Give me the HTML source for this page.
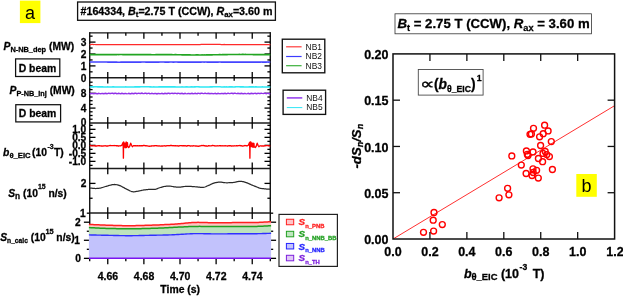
<!DOCTYPE html>
<html lang="en"><head><meta charset="utf-8"><title>Figure</title>
<style>html,body{margin:0;padding:0;background:#fff;}svg{display:block;font-family:'Liberation Sans', sans-serif;}.b{font-weight:bold;stroke:#000;stroke-width:0.28px;}.i{font-style:italic;}</style></head><body>
<svg style="will-change:transform" width="623" height="296" viewBox="0 0 623 296">
<rect x="0" y="0" width="623" height="296" fill="#fff"/>
<rect x="19.9" y="0.6" width="20.5" height="22.5" fill="#ffff00"/>
<text x="30.0" y="18.6" font-size="18" text-anchor="middle" fill="#000">a</text>
<rect x="77.6" y="2.0" width="197.8" height="18.3" fill="#fff" stroke="#111" stroke-width="1.3"/>
<text x="80.5" y="14.6" font-size="10.7" class="b">#164334, <tspan class="i">B</tspan><tspan font-size="7.8" dy="2.5">t</tspan><tspan dy="-2.5">=2.75 T (CCW), </tspan><tspan class="i">R</tspan><tspan font-size="7.8" dy="2.5">ax</tspan><tspan dy="-2.5">=3.60 m</tspan></text>
<line x1="89.7" y1="32.12" x2="89.7" y2="258.35" stroke="#161616" stroke-width="1.45"/>
<line x1="270.3" y1="32.12" x2="270.3" y2="258.35" stroke="#161616" stroke-width="1.45"/>
<line x1="89.7" y1="32.85" x2="270.3" y2="32.85" stroke="#161616" stroke-width="1.45"/>
<line x1="89.7" y1="77.8" x2="270.3" y2="77.8" stroke="#1c1c1c" stroke-width="1.5"/>
<line x1="89.7" y1="122.9" x2="270.3" y2="122.9" stroke="#1c1c1c" stroke-width="1.5"/>
<line x1="89.7" y1="168.4" x2="270.3" y2="168.4" stroke="#1c1c1c" stroke-width="1.5"/>
<line x1="89.7" y1="213.1" x2="270.3" y2="213.1" stroke="#1c1c1c" stroke-width="1.5"/>
<line x1="89.7" y1="258.35" x2="270.3" y2="258.35" stroke="#161616" stroke-width="1.45"/>
<line x1="89.7" y1="258.35" x2="89.7" y2="261.25" stroke="#000" stroke-width="1.3"/>
<line x1="107.76" y1="32.85" x2="107.76" y2="38.65" stroke="#000" stroke-width="1.3"/>
<line x1="107.76" y1="72" x2="107.76" y2="83.6" stroke="#000" stroke-width="1.3"/>
<line x1="107.76" y1="117.1" x2="107.76" y2="128.7" stroke="#000" stroke-width="1.3"/>
<line x1="107.76" y1="162.6" x2="107.76" y2="174.2" stroke="#000" stroke-width="1.3"/>
<line x1="107.76" y1="207.3" x2="107.76" y2="218.9" stroke="#000" stroke-width="1.3"/>
<line x1="107.76" y1="258.35" x2="107.76" y2="264.15" stroke="#000" stroke-width="1.3"/>
<line x1="125.82" y1="32.85" x2="125.82" y2="35.75" stroke="#000" stroke-width="1.3"/>
<line x1="125.82" y1="74.9" x2="125.82" y2="80.7" stroke="#000" stroke-width="1.3"/>
<line x1="125.82" y1="120" x2="125.82" y2="125.8" stroke="#000" stroke-width="1.3"/>
<line x1="125.82" y1="165.5" x2="125.82" y2="171.3" stroke="#000" stroke-width="1.3"/>
<line x1="125.82" y1="210.2" x2="125.82" y2="216" stroke="#000" stroke-width="1.3"/>
<line x1="125.82" y1="258.35" x2="125.82" y2="261.25" stroke="#000" stroke-width="1.3"/>
<line x1="143.88" y1="32.85" x2="143.88" y2="38.65" stroke="#000" stroke-width="1.3"/>
<line x1="143.88" y1="72" x2="143.88" y2="83.6" stroke="#000" stroke-width="1.3"/>
<line x1="143.88" y1="117.1" x2="143.88" y2="128.7" stroke="#000" stroke-width="1.3"/>
<line x1="143.88" y1="162.6" x2="143.88" y2="174.2" stroke="#000" stroke-width="1.3"/>
<line x1="143.88" y1="207.3" x2="143.88" y2="218.9" stroke="#000" stroke-width="1.3"/>
<line x1="143.88" y1="258.35" x2="143.88" y2="264.15" stroke="#000" stroke-width="1.3"/>
<line x1="161.94" y1="32.85" x2="161.94" y2="35.75" stroke="#000" stroke-width="1.3"/>
<line x1="161.94" y1="74.9" x2="161.94" y2="80.7" stroke="#000" stroke-width="1.3"/>
<line x1="161.94" y1="120" x2="161.94" y2="125.8" stroke="#000" stroke-width="1.3"/>
<line x1="161.94" y1="165.5" x2="161.94" y2="171.3" stroke="#000" stroke-width="1.3"/>
<line x1="161.94" y1="210.2" x2="161.94" y2="216" stroke="#000" stroke-width="1.3"/>
<line x1="161.94" y1="258.35" x2="161.94" y2="261.25" stroke="#000" stroke-width="1.3"/>
<line x1="180" y1="32.85" x2="180" y2="38.65" stroke="#000" stroke-width="1.3"/>
<line x1="180" y1="72" x2="180" y2="83.6" stroke="#000" stroke-width="1.3"/>
<line x1="180" y1="117.1" x2="180" y2="128.7" stroke="#000" stroke-width="1.3"/>
<line x1="180" y1="162.6" x2="180" y2="174.2" stroke="#000" stroke-width="1.3"/>
<line x1="180" y1="207.3" x2="180" y2="218.9" stroke="#000" stroke-width="1.3"/>
<line x1="180" y1="258.35" x2="180" y2="264.15" stroke="#000" stroke-width="1.3"/>
<line x1="198.06" y1="32.85" x2="198.06" y2="35.75" stroke="#000" stroke-width="1.3"/>
<line x1="198.06" y1="74.9" x2="198.06" y2="80.7" stroke="#000" stroke-width="1.3"/>
<line x1="198.06" y1="120" x2="198.06" y2="125.8" stroke="#000" stroke-width="1.3"/>
<line x1="198.06" y1="165.5" x2="198.06" y2="171.3" stroke="#000" stroke-width="1.3"/>
<line x1="198.06" y1="210.2" x2="198.06" y2="216" stroke="#000" stroke-width="1.3"/>
<line x1="198.06" y1="258.35" x2="198.06" y2="261.25" stroke="#000" stroke-width="1.3"/>
<line x1="216.12" y1="32.85" x2="216.12" y2="38.65" stroke="#000" stroke-width="1.3"/>
<line x1="216.12" y1="72" x2="216.12" y2="83.6" stroke="#000" stroke-width="1.3"/>
<line x1="216.12" y1="117.1" x2="216.12" y2="128.7" stroke="#000" stroke-width="1.3"/>
<line x1="216.12" y1="162.6" x2="216.12" y2="174.2" stroke="#000" stroke-width="1.3"/>
<line x1="216.12" y1="207.3" x2="216.12" y2="218.9" stroke="#000" stroke-width="1.3"/>
<line x1="216.12" y1="258.35" x2="216.12" y2="264.15" stroke="#000" stroke-width="1.3"/>
<line x1="234.18" y1="32.85" x2="234.18" y2="35.75" stroke="#000" stroke-width="1.3"/>
<line x1="234.18" y1="74.9" x2="234.18" y2="80.7" stroke="#000" stroke-width="1.3"/>
<line x1="234.18" y1="120" x2="234.18" y2="125.8" stroke="#000" stroke-width="1.3"/>
<line x1="234.18" y1="165.5" x2="234.18" y2="171.3" stroke="#000" stroke-width="1.3"/>
<line x1="234.18" y1="210.2" x2="234.18" y2="216" stroke="#000" stroke-width="1.3"/>
<line x1="234.18" y1="258.35" x2="234.18" y2="261.25" stroke="#000" stroke-width="1.3"/>
<line x1="252.24" y1="32.85" x2="252.24" y2="38.65" stroke="#000" stroke-width="1.3"/>
<line x1="252.24" y1="72" x2="252.24" y2="83.6" stroke="#000" stroke-width="1.3"/>
<line x1="252.24" y1="117.1" x2="252.24" y2="128.7" stroke="#000" stroke-width="1.3"/>
<line x1="252.24" y1="162.6" x2="252.24" y2="174.2" stroke="#000" stroke-width="1.3"/>
<line x1="252.24" y1="207.3" x2="252.24" y2="218.9" stroke="#000" stroke-width="1.3"/>
<line x1="252.24" y1="258.35" x2="252.24" y2="264.15" stroke="#000" stroke-width="1.3"/>
<line x1="270.3" y1="258.35" x2="270.3" y2="261.25" stroke="#000" stroke-width="1.3"/>
<line x1="89.7" y1="65.9" x2="95.5" y2="65.9" stroke="#000" stroke-width="1.3"/>
<line x1="264.5" y1="65.9" x2="270.3" y2="65.9" stroke="#000" stroke-width="1.3"/>
<line x1="89.7" y1="54" x2="95.5" y2="54" stroke="#000" stroke-width="1.3"/>
<line x1="264.5" y1="54" x2="270.3" y2="54" stroke="#000" stroke-width="1.3"/>
<line x1="89.7" y1="42.1" x2="95.5" y2="42.1" stroke="#000" stroke-width="1.3"/>
<line x1="264.5" y1="42.1" x2="270.3" y2="42.1" stroke="#000" stroke-width="1.3"/>
<line x1="89.7" y1="71.85" x2="92.6" y2="71.85" stroke="#000" stroke-width="1.3"/>
<line x1="267.4" y1="71.85" x2="270.3" y2="71.85" stroke="#000" stroke-width="1.3"/>
<line x1="89.7" y1="59.95" x2="92.6" y2="59.95" stroke="#000" stroke-width="1.3"/>
<line x1="267.4" y1="59.95" x2="270.3" y2="59.95" stroke="#000" stroke-width="1.3"/>
<line x1="89.7" y1="48.05" x2="92.6" y2="48.05" stroke="#000" stroke-width="1.3"/>
<line x1="267.4" y1="48.05" x2="270.3" y2="48.05" stroke="#000" stroke-width="1.3"/>
<line x1="89.7" y1="36.15" x2="92.6" y2="36.15" stroke="#000" stroke-width="1.3"/>
<line x1="267.4" y1="36.15" x2="270.3" y2="36.15" stroke="#000" stroke-width="1.3"/>
<line x1="89.7" y1="108.1" x2="95.5" y2="108.1" stroke="#000" stroke-width="1.3"/>
<line x1="264.5" y1="108.1" x2="270.3" y2="108.1" stroke="#000" stroke-width="1.3"/>
<line x1="89.7" y1="93.3" x2="95.5" y2="93.3" stroke="#000" stroke-width="1.3"/>
<line x1="264.5" y1="93.3" x2="270.3" y2="93.3" stroke="#000" stroke-width="1.3"/>
<line x1="89.7" y1="119.2" x2="92.6" y2="119.2" stroke="#000" stroke-width="1.3"/>
<line x1="267.4" y1="119.2" x2="270.3" y2="119.2" stroke="#000" stroke-width="1.3"/>
<line x1="89.7" y1="115.5" x2="92.6" y2="115.5" stroke="#000" stroke-width="1.3"/>
<line x1="267.4" y1="115.5" x2="270.3" y2="115.5" stroke="#000" stroke-width="1.3"/>
<line x1="89.7" y1="111.8" x2="92.6" y2="111.8" stroke="#000" stroke-width="1.3"/>
<line x1="267.4" y1="111.8" x2="270.3" y2="111.8" stroke="#000" stroke-width="1.3"/>
<line x1="89.7" y1="104.4" x2="92.6" y2="104.4" stroke="#000" stroke-width="1.3"/>
<line x1="267.4" y1="104.4" x2="270.3" y2="104.4" stroke="#000" stroke-width="1.3"/>
<line x1="89.7" y1="100.7" x2="92.6" y2="100.7" stroke="#000" stroke-width="1.3"/>
<line x1="267.4" y1="100.7" x2="270.3" y2="100.7" stroke="#000" stroke-width="1.3"/>
<line x1="89.7" y1="97" x2="92.6" y2="97" stroke="#000" stroke-width="1.3"/>
<line x1="267.4" y1="97" x2="270.3" y2="97" stroke="#000" stroke-width="1.3"/>
<line x1="89.7" y1="89.6" x2="92.6" y2="89.6" stroke="#000" stroke-width="1.3"/>
<line x1="267.4" y1="89.6" x2="270.3" y2="89.6" stroke="#000" stroke-width="1.3"/>
<line x1="89.7" y1="85.9" x2="92.6" y2="85.9" stroke="#000" stroke-width="1.3"/>
<line x1="267.4" y1="85.9" x2="270.3" y2="85.9" stroke="#000" stroke-width="1.3"/>
<line x1="89.7" y1="82.2" x2="92.6" y2="82.2" stroke="#000" stroke-width="1.3"/>
<line x1="267.4" y1="82.2" x2="270.3" y2="82.2" stroke="#000" stroke-width="1.3"/>
<line x1="89.7" y1="161.35" x2="95.5" y2="161.35" stroke="#000" stroke-width="1.3"/>
<line x1="264.5" y1="161.35" x2="270.3" y2="161.35" stroke="#000" stroke-width="1.3"/>
<line x1="89.7" y1="153.35" x2="95.5" y2="153.35" stroke="#000" stroke-width="1.3"/>
<line x1="264.5" y1="153.35" x2="270.3" y2="153.35" stroke="#000" stroke-width="1.3"/>
<line x1="89.7" y1="145.35" x2="95.5" y2="145.35" stroke="#000" stroke-width="1.3"/>
<line x1="264.5" y1="145.35" x2="270.3" y2="145.35" stroke="#000" stroke-width="1.3"/>
<line x1="89.7" y1="137.35" x2="95.5" y2="137.35" stroke="#000" stroke-width="1.3"/>
<line x1="264.5" y1="137.35" x2="270.3" y2="137.35" stroke="#000" stroke-width="1.3"/>
<line x1="89.7" y1="129.35" x2="95.5" y2="129.35" stroke="#000" stroke-width="1.3"/>
<line x1="264.5" y1="129.35" x2="270.3" y2="129.35" stroke="#000" stroke-width="1.3"/>
<line x1="89.7" y1="165.35" x2="92.6" y2="165.35" stroke="#000" stroke-width="1.3"/>
<line x1="267.4" y1="165.35" x2="270.3" y2="165.35" stroke="#000" stroke-width="1.3"/>
<line x1="89.7" y1="157.35" x2="92.6" y2="157.35" stroke="#000" stroke-width="1.3"/>
<line x1="267.4" y1="157.35" x2="270.3" y2="157.35" stroke="#000" stroke-width="1.3"/>
<line x1="89.7" y1="149.35" x2="92.6" y2="149.35" stroke="#000" stroke-width="1.3"/>
<line x1="267.4" y1="149.35" x2="270.3" y2="149.35" stroke="#000" stroke-width="1.3"/>
<line x1="89.7" y1="141.35" x2="92.6" y2="141.35" stroke="#000" stroke-width="1.3"/>
<line x1="267.4" y1="141.35" x2="270.3" y2="141.35" stroke="#000" stroke-width="1.3"/>
<line x1="89.7" y1="133.35" x2="92.6" y2="133.35" stroke="#000" stroke-width="1.3"/>
<line x1="267.4" y1="133.35" x2="270.3" y2="133.35" stroke="#000" stroke-width="1.3"/>
<line x1="89.7" y1="125.35" x2="92.6" y2="125.35" stroke="#000" stroke-width="1.3"/>
<line x1="267.4" y1="125.35" x2="270.3" y2="125.35" stroke="#000" stroke-width="1.3"/>
<line x1="89.7" y1="183.4" x2="95.5" y2="183.4" stroke="#000" stroke-width="1.3"/>
<line x1="264.5" y1="183.4" x2="270.3" y2="183.4" stroke="#000" stroke-width="1.3"/>
<line x1="89.7" y1="198.25" x2="92.6" y2="198.25" stroke="#000" stroke-width="1.3"/>
<line x1="267.4" y1="198.25" x2="270.3" y2="198.25" stroke="#000" stroke-width="1.3"/>
<line x1="83.9" y1="258.35" x2="89.7" y2="258.35" stroke="#000" stroke-width="1.3"/>
<line x1="270.3" y1="258.35" x2="276.1" y2="258.35" stroke="#000" stroke-width="1.3"/>
<line x1="83.9" y1="240.28" x2="89.7" y2="240.28" stroke="#000" stroke-width="1.3"/>
<line x1="270.3" y1="240.28" x2="276.1" y2="240.28" stroke="#000" stroke-width="1.3"/>
<line x1="83.9" y1="222.21" x2="89.7" y2="222.21" stroke="#000" stroke-width="1.3"/>
<line x1="270.3" y1="222.21" x2="276.1" y2="222.21" stroke="#000" stroke-width="1.3"/>
<line x1="86.8" y1="249.32" x2="89.7" y2="249.32" stroke="#000" stroke-width="1.3"/>
<line x1="270.3" y1="249.32" x2="273.2" y2="249.32" stroke="#000" stroke-width="1.3"/>
<line x1="86.8" y1="231.25" x2="89.7" y2="231.25" stroke="#000" stroke-width="1.3"/>
<line x1="270.3" y1="231.25" x2="273.2" y2="231.25" stroke="#000" stroke-width="1.3"/>
<line x1="86.8" y1="213.18" x2="89.7" y2="213.18" stroke="#000" stroke-width="1.3"/>
<line x1="270.3" y1="213.18" x2="273.2" y2="213.18" stroke="#000" stroke-width="1.3"/>
<polyline points="89.7,44.5 90.7,44.5 91.71,44.49 92.71,44.48 93.71,44.51 94.72,44.5 95.72,44.5 96.72,44.53 97.73,44.52 98.73,44.54 99.73,44.53 100.74,44.53 101.74,44.53 102.74,44.54 103.75,44.53 104.75,44.53 105.75,44.55 106.76,44.54 107.76,44.52 108.76,44.52 109.77,44.54 110.77,44.51 111.77,44.53 112.78,44.52 113.78,44.54 114.78,44.56 115.79,44.57 116.79,44.6 117.79,44.57 118.8,44.58 119.8,44.59 120.8,44.57 121.81,44.57 122.81,44.55 123.81,44.57 124.82,44.6 125.82,44.62 126.82,44.63 127.83,44.62 128.83,44.64 129.83,44.64 130.84,44.64 131.84,44.65 132.84,44.65 133.85,44.66 134.85,44.67 135.85,44.67 136.86,44.66 137.86,44.65 138.86,44.64 139.87,44.67 140.87,44.67 141.87,44.67 142.88,44.67 143.88,44.67 144.88,44.66 145.89,44.66 146.89,44.67 147.89,44.65 148.9,44.62 149.9,44.62 150.9,44.59 151.91,44.59 152.91,44.58 153.91,44.59 154.92,44.57 155.92,44.57 156.92,44.56 157.93,44.56 158.93,44.57 159.93,44.58 160.94,44.59 161.94,44.57 162.94,44.56 163.95,44.56 164.95,44.56 165.95,44.56 166.96,44.55 167.96,44.53 168.96,44.54 169.97,44.54 170.97,44.56 171.97,44.56 172.98,44.56 173.98,44.55 174.98,44.56 175.99,44.57 176.99,44.59 177.99,44.59 179,44.6 180,44.61 181,44.62 182.01,44.58 183.01,44.59 184.01,44.58 185.02,44.61 186.02,44.62 187.02,44.62 188.03,44.6 189.03,44.57 190.03,44.59 191.04,44.58 192.04,44.58 193.04,44.58 194.05,44.56 195.05,44.55 196.05,44.54 197.06,44.54 198.06,44.53 199.06,44.52 200.07,44.51 201.07,44.48 202.07,44.48 203.08,44.49 204.08,44.47 205.08,44.45 206.09,44.46 207.09,44.44 208.09,44.41 209.1,44.41 210.1,44.42 211.1,44.42 212.11,44.43 213.11,44.43 214.11,44.41 215.12,44.42 216.12,44.43 217.12,44.45 218.13,44.45 219.13,44.44 220.13,44.47 221.14,44.5 222.14,44.5 223.14,44.51 224.15,44.5 225.15,44.52 226.15,44.52 227.16,44.53 228.16,44.56 229.16,44.56 230.17,44.56 231.17,44.55 232.17,44.58 233.18,44.56 234.18,44.56 235.18,44.55 236.19,44.54 237.19,44.57 238.19,44.6 239.2,44.63 240.2,44.65 241.2,44.65 242.21,44.67 243.21,44.68 244.21,44.66 245.22,44.65 246.22,44.65 247.22,44.63 248.23,44.64 249.23,44.63 250.23,44.62 251.24,44.62 252.24,44.61 253.24,44.64 254.25,44.66 255.25,44.69 256.25,44.68 257.26,44.67 258.26,44.64 259.26,44.64 260.27,44.64 261.27,44.63 262.27,44.63 263.28,44.63 264.28,44.61 265.28,44.6 266.29,44.61 267.29,44.6 268.29,44.61 269.3,44.63 270.3,44.66" fill="none" stroke="#ff2a2a" stroke-width="1.25" />
<polyline points="89.7,54.63 90.7,54.64 91.71,54.65 92.71,54.66 93.71,54.66 94.72,54.67 95.72,54.66 96.72,54.65 97.73,54.65 98.73,54.62 99.73,54.6 100.74,54.62 101.74,54.62 102.74,54.63 103.75,54.6 104.75,54.61 105.75,54.62 106.76,54.6 107.76,54.58 108.76,54.59 109.77,54.6 110.77,54.61 111.77,54.63 112.78,54.65 113.78,54.63 114.78,54.6 115.79,54.6 116.79,54.57 117.79,54.55 118.8,54.55 119.8,54.52 120.8,54.53 121.81,54.55 122.81,54.56 123.81,54.57 124.82,54.56 125.82,54.58 126.82,54.59 127.83,54.59 128.83,54.58 129.83,54.57 130.84,54.56 131.84,54.57 132.84,54.56 133.85,54.56 134.85,54.56 135.85,54.57 136.86,54.57 137.86,54.57 138.86,54.59 139.87,54.6 140.87,54.62 141.87,54.63 142.88,54.62 143.88,54.64 144.88,54.65 145.89,54.65 146.89,54.67 147.89,54.69 148.9,54.68 149.9,54.68 150.9,54.69 151.91,54.72 152.91,54.7 153.91,54.7 154.92,54.7 155.92,54.68 156.92,54.67 157.93,54.65 158.93,54.64 159.93,54.64 160.94,54.66 161.94,54.64 162.94,54.65 163.95,54.66 164.95,54.64 165.95,54.66 166.96,54.68 167.96,54.68 168.96,54.68 169.97,54.68 170.97,54.67 171.97,54.68 172.98,54.71 173.98,54.7 174.98,54.69 175.99,54.69 176.99,54.71 177.99,54.73 179,54.74 180,54.79 181,54.79 182.01,54.83 183.01,54.84 184.01,54.83 185.02,54.83 186.02,54.87 187.02,54.88 188.03,54.87 189.03,54.93 190.03,54.94 191.04,54.96 192.04,54.97 193.04,54.95 194.05,54.95 195.05,54.97 196.05,54.94 197.06,54.92 198.06,54.93 199.06,54.95 200.07,54.96 201.07,54.95 202.07,54.94 203.08,54.95 204.08,54.93 205.08,54.95 206.09,54.91 207.09,54.88 208.09,54.89 209.1,54.87 210.1,54.83 211.1,54.83 212.11,54.83 213.11,54.8 214.11,54.75 215.12,54.73 216.12,54.71 217.12,54.72 218.13,54.72 219.13,54.69 220.13,54.69 221.14,54.71 222.14,54.69 223.14,54.65 224.15,54.63 225.15,54.62 226.15,54.61 227.16,54.57 228.16,54.55 229.16,54.52 230.17,54.53 231.17,54.53 232.17,54.53 233.18,54.53 234.18,54.54 235.18,54.51 236.19,54.5 237.19,54.46 238.19,54.47 239.2,54.43 240.2,54.46 241.2,54.45 242.21,54.44 243.21,54.44 244.21,54.46 245.22,54.42 246.22,54.45 247.22,54.46 248.23,54.46 249.23,54.48 250.23,54.49 251.24,54.51 252.24,54.53 253.24,54.56 254.25,54.57 255.25,54.59 256.25,54.58 257.26,54.6 258.26,54.59 259.26,54.6 260.27,54.59 261.27,54.59 262.27,54.59 263.28,54.62 264.28,54.6 265.28,54.58 266.29,54.58 267.29,54.59 268.29,54.59 269.3,54.61 270.3,54.59" fill="none" stroke="#22a522" stroke-width="1.65" />
<polyline points="89.7,62.02 90.7,62.02 91.71,62.02 92.71,62.03 93.71,62.03 94.72,62.04 95.72,62.03 96.72,62.03 97.73,62.04 98.73,62.04 99.73,62.02 100.74,62.04 101.74,62.04 102.74,62.05 103.75,62.06 104.75,62.05 105.75,62.06 106.76,62.07 107.76,62.08 108.76,62.1 109.77,62.11 110.77,62.11 111.77,62.11 112.78,62.12 113.78,62.14 114.78,62.16 115.79,62.17 116.79,62.17 117.79,62.18 118.8,62.18 119.8,62.18 120.8,62.17 121.81,62.15 122.81,62.14 123.81,62.14 124.82,62.12 125.82,62.14 126.82,62.13 127.83,62.13 128.83,62.15 129.83,62.14 130.84,62.13 131.84,62.12 132.84,62.12 133.85,62.12 134.85,62.13 135.85,62.13 136.86,62.13 137.86,62.11 138.86,62.11 139.87,62.1 140.87,62.08 141.87,62.07 142.88,62.07 143.88,62.06 144.88,62.07 145.89,62.09 146.89,62.1 147.89,62.1 148.9,62.11 149.9,62.11 150.9,62.11 151.91,62.11 152.91,62.11 153.91,62.1 154.92,62.09 155.92,62.1 156.92,62.09 157.93,62.08 158.93,62.09 159.93,62.07 160.94,62.06 161.94,62.06 162.94,62.06 163.95,62.07 164.95,62.09 165.95,62.09 166.96,62.08 167.96,62.09 168.96,62.08 169.97,62.06 170.97,62.07 171.97,62.07 172.98,62.08 173.98,62.08 174.98,62.07 175.99,62.06 176.99,62.07 177.99,62.09 179,62.1 180,62.1 181,62.08 182.01,62.1 183.01,62.09 184.01,62.1 185.02,62.11 186.02,62.11 187.02,62.12 188.03,62.11 189.03,62.11 190.03,62.11 191.04,62.12 192.04,62.13 193.04,62.12 194.05,62.14 195.05,62.13 196.05,62.13 197.06,62.1 198.06,62.09 199.06,62.1 200.07,62.1 201.07,62.08 202.07,62.07 203.08,62.07 204.08,62.08 205.08,62.07 206.09,62.07 207.09,62.08 208.09,62.07 209.1,62.09 210.1,62.1 211.1,62.1 212.11,62.1 213.11,62.09 214.11,62.09 215.12,62.09 216.12,62.09 217.12,62.09 218.13,62.08 219.13,62.07 220.13,62.07 221.14,62.08 222.14,62.08 223.14,62.08 224.15,62.1 225.15,62.1 226.15,62.1 227.16,62.1 228.16,62.08 229.16,62.09 230.17,62.1 231.17,62.1 232.17,62.12 233.18,62.11 234.18,62.11 235.18,62.12 236.19,62.12 237.19,62.13 238.19,62.12 239.2,62.12 240.2,62.11 241.2,62.12 242.21,62.13 243.21,62.13 244.21,62.13 245.22,62.15 246.22,62.13 247.22,62.13 248.23,62.12 249.23,62.12 250.23,62.13 251.24,62.14 252.24,62.15 253.24,62.15 254.25,62.14 255.25,62.13 256.25,62.12 257.26,62.11 258.26,62.09 259.26,62.07 260.27,62.08 261.27,62.07 262.27,62.08 263.28,62.08 264.28,62.1 265.28,62.09 266.29,62.08 267.29,62.07 268.29,62.08 269.3,62.06 270.3,62.06" fill="none" stroke="#4444ff" stroke-width="1.6" />
<polyline points="89.7,86.92 90.7,86.92 91.71,86.88 92.71,86.83 93.71,86.85 94.72,86.82 95.72,86.83 96.72,86.84 97.73,86.88 98.73,86.87 99.73,86.89 100.74,86.89 101.74,86.84 102.74,86.86 103.75,86.9 104.75,86.92 105.75,86.92 106.76,86.91 107.76,86.89 108.76,86.92 109.77,86.97 110.77,86.97 111.77,86.94 112.78,86.87 113.78,86.82 114.78,86.9 115.79,86.97 116.79,86.98 117.79,86.99 118.8,86.97 119.8,86.93 120.8,86.94 121.81,86.95 122.81,86.93 123.81,86.94 124.82,86.93 125.82,86.9 126.82,86.95 127.83,86.98 128.83,87.01 129.83,86.97 130.84,86.98 131.84,86.92 132.84,86.93 133.85,86.93 134.85,86.89 135.85,86.87 136.86,86.84 137.86,86.89 138.86,86.88 139.87,86.87 140.87,86.8 141.87,86.79 142.88,86.82 143.88,86.84 144.88,86.84 145.89,86.83 146.89,86.77 147.89,86.79 148.9,86.82 149.9,86.86 150.9,86.87 151.91,86.91 152.91,86.93 153.91,86.9 154.92,86.92 155.92,86.97 156.92,86.99 157.93,86.94 158.93,86.89 159.93,86.85 160.94,86.87 161.94,86.89 162.94,86.89 163.95,86.86 164.95,86.88 165.95,86.87 166.96,86.87 167.96,86.86 168.96,86.84 169.97,86.86 170.97,86.86 171.97,86.87 172.98,86.85 173.98,86.88 174.98,86.89 175.99,86.94 176.99,86.93 177.99,86.95 179,86.95 180,86.9 181,86.9 182.01,86.88 183.01,86.95 184.01,86.91 185.02,86.9 186.02,86.85 187.02,86.86 188.03,86.9 189.03,86.92 190.03,86.9 191.04,86.86 192.04,86.83 193.04,86.9 194.05,86.89 195.05,86.86 196.05,86.81 197.06,86.76 198.06,86.83 199.06,86.87 200.07,86.91 201.07,86.91 202.07,86.98 203.08,87 204.08,87.01 205.08,87.06 206.09,87.05 207.09,86.98 208.09,86.97 209.1,86.92 210.1,86.87 211.1,86.87 212.11,86.87 213.11,86.79 214.11,86.75 215.12,86.78 216.12,86.8 217.12,86.78 218.13,86.83 219.13,86.82 220.13,86.84 221.14,86.91 222.14,86.95 223.14,86.96 224.15,86.88 225.15,86.91 226.15,86.86 227.16,86.92 228.16,86.91 229.16,86.87 230.17,86.87 231.17,86.84 232.17,86.87 233.18,86.9 234.18,86.93 235.18,86.86 236.19,86.85 237.19,86.82 238.19,86.82 239.2,86.84 240.2,86.87 241.2,86.88 242.21,86.84 243.21,86.86 244.21,86.94 245.22,86.99 246.22,86.93 247.22,86.97 248.23,86.93 249.23,86.88 250.23,86.85 251.24,86.89 252.24,86.89 253.24,86.89 254.25,86.95 255.25,86.89 256.25,86.88 257.26,86.9 258.26,86.98 259.26,87 260.27,86.95 261.27,86.92 262.27,86.88 263.28,86.92 264.28,86.97 265.28,86.95 266.29,86.94 267.29,86.92 268.29,86.96 269.3,87 270.3,87.01" fill="none" stroke="#2ee8f4" stroke-width="1.55" />
<polyline points="89.7,93.5 90.7,93.76 91.71,93.4 92.71,93.43 93.71,93.83 94.72,93.59 95.72,93.38 96.72,93.79 97.73,93.74 98.73,93.37 99.73,93.64 100.74,93.81 101.74,93.39 102.74,93.44 103.75,93.77 104.75,93.44 105.75,93.26 106.76,93.64 107.76,93.52 108.76,93.16 109.77,93.47 110.77,93.59 111.77,93.18 112.78,93.31 113.78,93.64 114.78,93.31 115.79,93.22 116.79,93.65 117.79,93.5 118.8,93.23 119.8,93.61 120.8,93.7 121.81,93.33 122.81,93.54 123.81,93.84 124.82,93.48 125.82,93.45 126.82,93.85 127.83,93.63 128.83,93.37 129.83,93.74 130.84,93.74 131.84,93.33 132.84,93.55 133.85,93.76 134.85,93.34 135.85,93.34 136.86,93.69 137.86,93.4 138.86,93.18 139.87,93.57 140.87,93.5 141.87,93.13 142.88,93.42 143.88,93.61 144.88,93.21 145.89,93.31 146.89,93.68 147.89,93.39 148.9,93.27 149.9,93.7 150.9,93.61 151.91,93.3 152.91,93.65 153.91,93.79 154.92,93.4 155.92,93.55 156.92,93.87 157.93,93.52 158.93,93.43 159.93,93.82 160.94,93.63 161.94,93.32 162.94,93.66 163.95,93.69 164.95,93.27 165.95,93.44 166.96,93.69 167.96,93.3 168.96,93.25 169.97,93.63 170.97,93.39 171.97,93.14 172.98,93.53 173.98,93.53 174.98,93.16 175.99,93.42 176.99,93.67 177.99,93.3 179,93.35 180,93.75 181,93.5 182.01,93.33 183.01,93.75 184.01,93.71 185.02,93.36 186.02,93.66 187.02,93.84 188.03,93.43 189.03,93.52 190.03,93.85 191.04,93.52 192.04,93.36 193.04,93.74 194.05,93.6 195.05,93.24 196.05,93.55 197.06,93.64 198.06,93.21 199.06,93.35 200.07,93.64 201.07,93.28 202.07,93.2 203.08,93.6 204.08,93.43 205.08,93.15 206.09,93.53 207.09,93.61 208.09,93.23 209.1,93.46 210.1,93.75 211.1,93.4 212.11,93.4 213.11,93.81 214.11,93.6 215.12,93.37 216.12,93.77 217.12,93.76 218.13,93.38 219.13,93.63 220.13,93.83 221.14,93.42 222.14,93.44 223.14,93.79 224.15,93.48 225.15,93.27 226.15,93.64 227.16,93.55 228.16,93.17 229.16,93.46 230.17,93.61 231.17,93.19 232.17,93.29 233.18,93.63 234.18,93.32 235.18,93.2 236.19,93.62 237.19,93.51 238.19,93.21 239.2,93.57 240.2,93.7 241.2,93.32 242.21,93.5 243.21,93.83 244.21,93.49 245.22,93.43 246.22,93.84 247.22,93.66 248.23,93.37 249.23,93.73 250.23,93.77 251.24,93.35 252.24,93.54 253.24,93.78 254.25,93.38 255.25,93.34 256.25,93.7 257.26,93.44 258.26,93.18 259.26,93.56 260.27,93.53 261.27,93.14 262.27,93.4 263.28,93.61 264.28,93.22 265.28,93.28 266.29,93.67 267.29,93.4 268.29,93.24 269.3,93.67 270.3,93.62" fill="none" stroke="#9030e8" stroke-width="1.45" />
<polyline points="89.7,145.6 90,145.54 90.3,145.58 90.6,145.48 90.91,145.67 91.21,145.82 91.51,145.87 91.81,145.87 92.11,145.87 92.41,145.89 92.72,145.88 93.02,145.96 93.32,145.84 93.62,145.71 93.92,145.59 94.22,145.66 94.52,145.79 94.83,145.92 95.13,146 95.43,145.99 95.73,145.92 96.03,146.05 96.33,146.02 96.63,146.01 96.94,145.95 97.24,145.94 97.54,145.81 97.84,145.72 98.14,145.74 98.44,145.6 98.75,145.72 99.05,145.73 99.35,145.72 99.65,145.64 99.95,145.81 100.25,145.87 100.55,145.86 100.86,146 101.16,145.95 101.46,146.04 101.76,145.99 102.06,146.01 102.36,145.97 102.66,146.05 102.97,146.19 103.27,146.03 103.57,145.95 103.87,145.77 104.17,145.78 104.47,145.89 104.78,145.84 105.08,145.86 105.38,145.74 105.68,145.92 105.98,145.95 106.28,145.98 106.58,146.11 106.89,146.1 107.19,146 107.49,145.93 107.79,145.98 108.09,145.84 108.39,145.83 108.69,145.8 109,145.68 109.3,145.53 109.6,145.64 109.9,145.65 110.2,145.56 110.5,145.52 110.81,145.51 111.11,145.62 111.41,145.62 111.71,145.63 112.01,145.55 112.31,145.58 112.61,145.65 112.92,145.66 113.22,145.61 113.52,145.55 113.82,145.63 114.12,145.7 114.42,145.68 114.72,145.54 115.03,145.57 115.33,145.65 115.63,145.69 115.93,145.67 116.23,145.75 116.53,145.68 116.84,145.78 117.14,145.83 117.44,145.77 117.74,145.86 118.04,146.01 118.34,146.03 118.64,145.87 118.95,145.95 119.25,145.88 119.55,145.8 119.85,145.91 120.15,145.81 120.45,145.77 120.7,145.85 121.8,145.25 122.5,143.65 123.05,142.45 123.3,149.85 123.4,158.15 123.52,148.85 123.7,142.03 124,147.19 124.32,142.88 124.62,147.06 124.94,143.49 125.24,147.78 125.56,143.17 125.86,147.2 126.18,142 126.48,147.52 126.8,142.88 127.1,146.58 127.42,142.68 127.72,146.28 128.7,147.45 129.6,146.45 130.7,143.25 131.5,145.25 132.4,146.75 133.2,145.85 133.42,145.74 133.72,145.62 134.02,145.59 134.32,145.75 134.62,145.71 134.93,145.74 135.23,145.79 135.53,145.72 135.83,145.87 136.13,145.85 136.43,145.82 136.73,145.74 137.04,145.87 137.34,145.81 137.64,145.74 137.94,145.86 138.24,145.77 138.54,145.89 138.84,145.85 139.15,145.83 139.45,145.7 139.75,145.77 140.05,145.78 140.35,145.71 140.65,145.78 140.96,145.81 141.26,145.81 141.56,145.75 141.86,145.85 142.16,145.74 142.46,145.66 142.76,145.71 143.07,145.56 143.37,145.49 143.67,145.5 143.97,145.47 144.27,145.51 144.57,145.5 144.87,145.63 145.18,145.7 145.48,145.79 145.78,145.71 146.08,145.71 146.38,145.78 146.68,145.85 146.99,145.86 147.29,145.89 147.59,145.93 147.89,145.98 148.19,146.14 148.49,146.07 148.79,146.2 149.1,146.11 149.4,146.28 149.7,146.29 150,146.12 150.3,146.13 150.6,146.15 150.91,146.12 151.21,145.99 151.51,146.05 151.81,145.88 152.11,145.87 152.41,145.9 152.71,145.9 153.02,145.74 153.32,145.83 153.62,145.95 153.92,145.83 154.22,145.86 154.52,145.77 154.82,145.78 155.13,145.62 155.43,145.62 155.73,145.55 156.03,145.56 156.33,145.66 156.63,145.79 156.94,145.72 157.24,145.82 157.54,145.83 157.84,145.91 158.14,146.01 158.44,145.89 158.74,145.93 159.05,145.86 159.35,145.94 159.65,145.96 159.95,145.96 160.25,146.06 160.55,146.06 160.85,146.06 161.16,146.05 161.46,145.99 161.76,146.07 162.06,146.01 162.36,146.06 162.66,146.02 162.97,145.98 163.27,145.93 163.57,145.92 163.87,145.87 164.17,145.84 164.47,145.77 164.77,145.83 165.08,145.87 165.38,145.9 165.68,146.01 165.98,145.92 166.28,145.91 166.58,145.74 166.88,145.72 167.19,145.71 167.49,145.59 167.79,145.58 168.09,145.63 168.39,145.59 168.69,145.64 169,145.77 169.3,145.74 169.6,145.61 169.9,145.6 170.2,145.51 170.5,145.4 170.8,145.41 171.11,145.49 171.41,145.48 171.71,145.52 172.01,145.65 172.31,145.67 172.61,145.68 172.91,145.8 173.22,145.81 173.52,145.71 173.82,145.61 174.12,145.7 174.42,145.75 174.72,145.82 175.03,145.88 175.33,145.73 175.63,145.68 175.93,145.79 176.23,145.89 176.53,145.83 176.83,145.78 177.14,145.71 177.44,145.82 177.74,145.92 178.04,145.97 178.34,146.02 178.64,145.91 178.94,145.95 179.25,145.9 179.55,145.86 179.85,145.67 180.15,145.68 180.45,145.63 180.75,145.56 181.06,145.75 181.36,145.66 181.66,145.62 181.96,145.7 182.26,145.79 182.56,145.77 182.86,145.94 183.17,145.86 183.47,145.72 183.77,145.76 184.07,145.72 184.37,145.78 184.67,145.84 184.97,145.86 185.28,145.69 185.58,145.83 185.88,145.92 186.18,145.96 186.48,146.1 186.78,146.01 187.09,145.89 187.39,145.76 187.69,145.81 187.99,145.64 188.29,145.55 188.59,145.61 188.89,145.6 189.2,145.69 189.5,145.79 189.8,145.82 190.1,145.89 190.4,145.98 190.7,146.07 191,146.02 191.31,145.93 191.61,145.89 191.91,145.94 192.21,145.93 192.51,146 192.81,145.91 193.12,145.8 193.42,145.74 193.72,145.84 194.02,145.91 194.32,145.86 194.62,145.88 194.92,145.88 195.23,145.95 195.53,145.94 195.83,146.09 196.13,146.06 196.43,146.01 196.73,145.99 197.03,146.13 197.34,146.04 197.64,146.15 197.94,146.25 198.24,146.24 198.54,146.2 198.84,146.2 199.15,146.18 199.45,146.04 199.75,145.99 200.05,145.94 200.35,145.81 200.65,145.82 200.95,145.76 201.26,145.61 201.56,145.51 201.86,145.64 202.16,145.67 202.46,145.57 202.76,145.56 203.06,145.38 203.37,145.49 203.67,145.62 203.97,145.75 204.27,145.71 204.57,145.65 204.87,145.74 205.18,145.81 205.48,145.98 205.78,146 206.08,146.06 206.38,145.92 206.68,145.95 206.98,146.13 207.29,146.21 207.59,146.15 207.89,146.02 208.19,145.87 208.49,145.69 208.79,145.86 209.09,145.85 209.4,145.79 209.7,145.76 210,145.87 210.3,145.89 210.6,145.89 210.9,145.9 211.21,145.88 211.51,145.75 211.81,145.69 212.11,145.6 212.41,145.47 212.71,145.46 213.01,145.5 213.32,145.63 213.62,145.55 213.92,145.58 214.22,145.71 214.52,145.73 214.82,145.91 215.13,145.98 215.43,145.93 215.73,145.86 216.03,145.88 216.33,145.98 216.63,145.84 216.93,145.89 217.24,145.82 217.54,145.74 217.84,145.91 218.14,145.84 218.44,145.92 218.74,145.8 219.04,145.72 219.35,145.62 219.65,145.66 219.95,145.83 220.25,145.64 220.55,145.73 220.85,145.66 221.16,145.79 221.46,145.83 221.76,145.89 222.06,145.8 222.36,145.77 222.66,145.83 222.96,145.92 223.27,145.88 223.57,145.76 223.87,145.87 224.17,145.87 224.47,145.82 224.77,145.78 225.07,145.74 225.38,145.7 225.68,145.79 225.98,145.91 226.28,145.9 226.58,145.87 226.88,145.93 227.19,145.88 227.49,146.05 227.79,145.9 228.09,145.94 228.39,145.78 228.69,145.69 228.99,145.67 229.3,145.78 229.6,145.8 229.9,145.69 230.2,145.86 230.5,145.72 230.8,145.81 231.1,145.88 231.41,145.99 231.71,145.96 232.01,145.99 232.31,145.98 232.61,145.86 232.91,145.85 233.22,145.93 233.52,145.95 233.82,145.95 234.12,145.83 234.42,145.78 234.72,145.87 235.02,145.93 235.33,145.92 235.63,145.84 235.93,145.89 236.23,145.78 236.53,145.79 236.83,145.76 237.13,145.74 237.44,145.8 237.74,145.8 238.04,145.74 238.34,145.6 238.64,145.62 238.94,145.69 239.25,145.66 239.55,145.58 239.85,145.44 240.15,145.62 240.45,145.74 240.75,145.71 241.05,145.84 241.36,145.75 241.66,145.8 241.96,145.94 242.26,146.07 242.56,146.02 242.86,145.96 243.16,145.98 243.47,145.91 243.77,145.91 244.07,145.87 244.37,145.74 244.67,145.58 244.97,145.51 245.28,145.59 245.58,145.69 245.88,145.66 246.18,145.77 246.48,145.83 246.78,145.78 247.08,145.9 247.2,145.85 248.3,145.25 249,143.65 249.55,142.45 249.8,149.85 249.9,158.15 250.02,148.85 250.2,141.97 250.5,146.69 250.82,141.92 251.12,146.53 251.44,143.11 251.74,146.51 252.06,142.98 252.36,146.38 252.68,144.04 252.98,147.35 253.3,143.35 253.6,146.49 253.92,143.3 254.22,146.91 255.2,147.45 256.1,146.45 257.2,143.25 258,145.25 258.9,146.75 259.7,145.85 259.75,145.95 260.05,145.86 260.35,145.78 260.65,145.88 260.95,145.92 261.25,146 261.56,145.97 261.86,145.94 262.16,145.94 262.46,146.01 262.76,146.09 263.06,146.02 263.37,146.01 263.67,145.98 263.97,146.01 264.27,145.86 264.57,145.96 264.87,145.95 265.17,145.76 265.48,145.77 265.78,145.71 266.08,145.63 266.38,145.56 266.68,145.62 266.98,145.56 267.28,145.56 267.59,145.6 267.89,145.59 268.19,145.67 268.49,145.86 268.79,145.89 269.09,145.84 269.4,145.86 269.7,145.87 270,145.86 270.3,145.84" fill="none" stroke="#ff0000" stroke-width="1.35" stroke-linejoin="round"/>
<polyline points="89.7,188 90.45,188.07 91.2,188.15 91.96,188.23 92.71,188.32 93.46,188.39 94.22,188.45 94.97,188.49 95.72,188.5 96.47,188.49 97.23,188.46 97.98,188.41 98.73,188.33 99.48,188.22 100.23,188.08 100.99,187.91 101.74,187.71 102.49,187.49 103.25,187.25 104,187 104.75,186.75 105.5,186.5 106.26,186.28 107.01,186.07 107.76,185.87 108.51,185.65 109.27,185.44 110.02,185.23 110.77,185.03 111.52,184.86 112.28,184.71 113.03,184.59 113.78,184.52 114.53,184.49 115.28,184.53 116.04,184.61 116.79,184.75 117.54,184.92 118.3,185.13 119.05,185.37 119.8,185.64 120.55,185.94 121.31,186.29 122.06,186.68 122.81,187.08 123.56,187.5 124.31,187.92 125.07,188.33 125.82,188.71 126.57,189.08 127.33,189.46 128.08,189.86 128.83,190.25 129.58,190.62 130.34,190.97 131.09,191.27 131.84,191.53 132.59,191.72 133.34,191.81 134.1,191.81 134.85,191.74 135.6,191.62 136.36,191.48 137.11,191.35 137.86,191.23 138.61,191.09 139.37,190.93 140.12,190.76 140.87,190.59 141.62,190.42 142.38,190.26 143.13,190.11 143.88,189.99 144.63,189.87 145.39,189.77 146.14,189.67 146.89,189.59 147.64,189.51 148.4,189.44 149.15,189.37 149.9,189.32 150.65,189.28 151.41,189.3 152.16,189.34 152.91,189.38 153.66,189.4 154.42,189.37 155.17,189.27 155.92,189.09 156.67,188.85 157.43,188.57 158.18,188.28 158.93,187.99 159.68,187.74 160.44,187.51 161.19,187.28 161.94,187.06 162.69,186.85 163.45,186.66 164.2,186.49 164.95,186.36 165.7,186.26 166.46,186.18 167.21,186.12 167.96,186.09 168.71,186.08 169.47,186.1 170.22,186.15 170.97,186.25 171.72,186.37 172.48,186.51 173.23,186.64 173.98,186.76 174.73,186.85 175.49,186.94 176.24,187.04 176.99,187.12 177.74,187.17 178.5,187.2 179.25,187.19 180,187.14 180.75,187.04 181.51,186.92 182.26,186.8 183.01,186.67 183.76,186.57 184.52,186.5 185.27,186.46 186.02,186.43 186.77,186.41 187.53,186.4 188.28,186.4 189.03,186.41 189.78,186.43 190.54,186.45 191.29,186.49 192.04,186.53 192.79,186.58 193.55,186.63 194.3,186.69 195.05,186.75 195.8,186.81 196.56,186.87 197.31,186.93 198.06,187.02 198.81,187.12 199.56,187.23 200.32,187.33 201.07,187.41 201.82,187.45 202.58,187.45 203.33,187.4 204.08,187.25 204.83,187.02 205.59,186.72 206.34,186.39 207.09,186.04 207.84,185.71 208.6,185.39 209.35,185.06 210.1,184.71 210.85,184.36 211.61,184.01 212.36,183.69 213.11,183.4 213.86,183.15 214.62,182.93 215.37,182.72 216.12,182.54 216.87,182.38 217.62,182.26 218.38,182.16 219.13,182.11 219.88,182.1 220.64,182.14 221.39,182.21 222.14,182.32 222.89,182.43 223.65,182.55 224.4,182.65 225.15,182.72 225.9,182.75 226.66,182.76 227.41,182.76 228.16,182.75 228.91,182.73 229.67,182.7 230.42,182.67 231.17,182.62 231.92,182.57 232.68,182.51 233.43,182.44 234.18,182.35 234.93,182.23 235.69,182.08 236.44,181.9 237.19,181.73 237.94,181.56 238.69,181.43 239.45,181.33 240.2,181.3 240.95,181.33 241.71,181.4 242.46,181.52 243.21,181.68 243.96,181.86 244.72,182.07 245.47,182.3 246.22,182.54 246.97,182.82 247.73,183.13 248.48,183.47 249.23,183.82 249.98,184.17 250.74,184.51 251.49,184.84 252.24,185.15 252.99,185.47 253.75,185.79 254.5,186.1 255.25,186.4 256,186.69 256.75,186.97 257.51,187.26 258.26,187.55 259.01,187.83 259.77,188.07 260.52,188.28 261.27,188.43 262.02,188.55 262.78,188.65 263.53,188.74 264.28,188.82 265.03,188.89 265.79,188.95 266.54,189.01 267.29,189.06 268.04,189.11 268.8,189.17 269.55,189.23 270.3,189.3" fill="none" stroke="#2a2a2a" stroke-width="1.25" />
<polygon points="88.9,224.4 91.2,224.51 92.71,224.58 94.22,224.65 95.72,224.72 97.23,224.8 98.73,224.87 100.23,224.94 101.74,225 103.25,225.07 104.75,225.12 106.26,225.18 107.76,225.23 109.27,225.28 110.77,225.32 112.28,225.37 113.78,225.42 115.28,225.46 116.79,225.51 118.3,225.55 119.8,225.58 121.31,225.61 122.81,225.64 124.31,225.66 125.82,225.68 127.33,225.69 128.83,225.7 130.34,225.7 131.84,225.69 133.34,225.67 134.85,225.65 136.36,225.62 137.86,225.58 139.37,225.55 140.87,225.5 142.38,225.46 143.88,225.41 145.39,225.36 146.89,225.31 148.4,225.26 149.9,225.21 151.41,225.16 152.91,225.11 154.42,225.06 155.92,225 157.43,224.94 158.93,224.88 160.44,224.82 161.94,224.76 163.45,224.69 164.95,224.62 166.46,224.55 167.96,224.48 169.47,224.4 170.97,224.32 172.48,224.23 173.98,224.13 175.49,224.02 176.99,223.91 178.5,223.79 180,223.68 181.51,223.56 183.01,223.43 184.52,223.28 186.02,223.12 187.53,222.97 189.03,222.82 190.54,222.68 192.04,222.56 193.55,222.47 195.05,222.41 196.56,222.38 198.06,222.37 199.56,222.38 201.07,222.4 202.58,222.44 204.08,222.48 205.59,222.53 207.09,222.58 208.6,222.64 210.1,222.68 211.61,222.73 213.11,222.76 214.62,222.79 216.12,222.8 217.62,222.8 219.13,222.79 220.64,222.78 222.14,222.77 223.65,222.75 225.15,222.73 226.66,222.7 228.16,222.68 229.67,222.65 231.17,222.63 232.68,222.6 234.18,222.57 235.69,222.55 237.19,222.53 238.69,222.51 240.2,222.5 241.71,222.49 243.21,222.5 244.72,222.51 246.22,222.52 247.73,222.53 249.23,222.54 250.74,222.55 252.24,222.55 253.75,222.54 255.25,222.52 256.75,222.49 258.26,222.44 259.77,222.37 261.27,222.29 262.78,222.21 264.28,222.12 265.79,222.02 267.29,221.93 268.8,221.83 271.1,221.7 271.1,225.7 268.8,225.82 267.29,225.9 265.79,225.98 264.28,226.06 262.78,226.14 261.27,226.22 259.77,226.29 258.26,226.34 256.75,226.39 255.25,226.42 253.75,226.44 252.24,226.45 250.74,226.45 249.23,226.45 247.73,226.44 246.22,226.43 244.72,226.41 243.21,226.41 241.71,226.4 240.2,226.4 238.69,226.4 237.19,226.41 235.69,226.42 234.18,226.42 232.68,226.43 231.17,226.44 229.67,226.45 228.16,226.46 226.66,226.47 225.15,226.47 223.65,226.48 222.14,226.49 220.64,226.49 219.13,226.5 217.62,226.5 216.12,226.5 214.62,226.5 213.11,226.49 211.61,226.48 210.1,226.46 208.6,226.45 207.09,226.43 205.59,226.41 204.08,226.4 202.58,226.38 201.07,226.38 199.56,226.37 198.06,226.38 196.56,226.39 195.05,226.4 193.55,226.44 192.04,226.48 190.54,226.54 189.03,226.6 187.53,226.67 186.02,226.75 184.52,226.83 183.01,226.9 181.51,226.98 180,227.05 178.5,227.12 176.99,227.21 175.49,227.29 173.98,227.37 172.48,227.45 170.97,227.53 169.47,227.6 167.96,227.67 166.46,227.74 164.95,227.81 163.45,227.88 161.94,227.95 160.44,228.01 158.93,228.08 157.43,228.14 155.92,228.2 154.42,228.26 152.91,228.31 151.41,228.36 149.9,228.41 148.4,228.45 146.89,228.5 145.39,228.54 143.88,228.58 142.38,228.62 140.87,228.65 139.37,228.69 137.86,228.72 136.36,228.74 134.85,228.76 133.34,228.78 131.84,228.79 130.34,228.8 128.83,228.8 127.33,228.8 125.82,228.79 124.31,228.78 122.81,228.76 121.31,228.74 119.8,228.71 118.3,228.69 116.79,228.66 115.28,228.62 113.78,228.59 112.28,228.55 110.77,228.51 109.27,228.47 107.76,228.43 106.26,228.38 104.75,228.33 103.25,228.27 101.74,228.21 100.23,228.14 98.73,228.07 97.23,228 95.72,227.93 94.22,227.85 92.71,227.78 91.2,227.71 88.9,227.6" fill="#ffc6c6" stroke="none"/>
<polygon points="88.9,227.6 91.2,227.71 92.71,227.78 94.22,227.85 95.72,227.93 97.23,228 98.73,228.07 100.23,228.14 101.74,228.21 103.25,228.27 104.75,228.33 106.26,228.38 107.76,228.43 109.27,228.47 110.77,228.51 112.28,228.55 113.78,228.59 115.28,228.62 116.79,228.66 118.3,228.69 119.8,228.71 121.31,228.74 122.81,228.76 124.31,228.78 125.82,228.79 127.33,228.8 128.83,228.8 130.34,228.8 131.84,228.79 133.34,228.78 134.85,228.76 136.36,228.74 137.86,228.72 139.37,228.69 140.87,228.65 142.38,228.62 143.88,228.58 145.39,228.54 146.89,228.5 148.4,228.45 149.9,228.41 151.41,228.36 152.91,228.31 154.42,228.26 155.92,228.2 157.43,228.14 158.93,228.08 160.44,228.01 161.94,227.95 163.45,227.88 164.95,227.81 166.46,227.74 167.96,227.67 169.47,227.6 170.97,227.53 172.48,227.45 173.98,227.37 175.49,227.29 176.99,227.21 178.5,227.12 180,227.05 181.51,226.98 183.01,226.9 184.52,226.83 186.02,226.75 187.53,226.67 189.03,226.6 190.54,226.54 192.04,226.48 193.55,226.44 195.05,226.4 196.56,226.39 198.06,226.38 199.56,226.37 201.07,226.38 202.58,226.38 204.08,226.4 205.59,226.41 207.09,226.43 208.6,226.45 210.1,226.46 211.61,226.48 213.11,226.49 214.62,226.5 216.12,226.5 217.62,226.5 219.13,226.5 220.64,226.49 222.14,226.49 223.65,226.48 225.15,226.47 226.66,226.47 228.16,226.46 229.67,226.45 231.17,226.44 232.68,226.43 234.18,226.42 235.69,226.42 237.19,226.41 238.69,226.4 240.2,226.4 241.71,226.4 243.21,226.41 244.72,226.41 246.22,226.43 247.73,226.44 249.23,226.45 250.74,226.45 252.24,226.45 253.75,226.44 255.25,226.42 256.75,226.39 258.26,226.34 259.77,226.29 261.27,226.22 262.78,226.14 264.28,226.06 265.79,225.98 267.29,225.9 268.8,225.82 271.1,225.7 271.1,233.3 268.8,233.37 267.29,233.41 265.79,233.46 264.28,233.51 262.78,233.55 261.27,233.6 259.77,233.63 258.26,233.67 256.75,233.69 255.25,233.71 253.75,233.72 252.24,233.73 250.74,233.72 249.23,233.72 247.73,233.71 246.22,233.71 244.72,233.7 243.21,233.7 241.71,233.7 240.2,233.7 238.69,233.71 237.19,233.72 235.69,233.73 234.18,233.75 232.68,233.77 231.17,233.79 229.67,233.8 228.16,233.82 226.66,233.84 225.15,233.85 223.65,233.87 222.14,233.88 220.64,233.89 219.13,233.9 217.62,233.9 216.12,233.9 214.62,233.89 213.11,233.87 211.61,233.85 210.1,233.82 208.6,233.78 207.09,233.75 205.59,233.71 204.08,233.68 202.58,233.65 201.07,233.62 199.56,233.6 198.06,233.59 196.56,233.59 195.05,233.6 193.55,233.63 192.04,233.69 190.54,233.75 189.03,233.83 187.53,233.92 186.02,234.01 184.52,234.1 183.01,234.19 181.51,234.27 180,234.35 178.5,234.44 176.99,234.52 175.49,234.61 173.98,234.7 172.48,234.78 170.97,234.85 169.47,234.9 167.96,234.95 166.46,234.99 164.95,235.03 163.45,235.06 161.94,235.09 160.44,235.12 158.93,235.15 157.43,235.17 155.92,235.2 154.42,235.22 152.91,235.25 151.41,235.28 149.9,235.31 148.4,235.34 146.89,235.37 145.39,235.41 143.88,235.45 142.38,235.49 140.87,235.52 139.37,235.56 137.86,235.59 136.36,235.63 134.85,235.65 133.34,235.67 131.84,235.69 130.34,235.7 128.83,235.7 127.33,235.69 125.82,235.68 124.31,235.67 122.81,235.65 121.31,235.62 119.8,235.59 118.3,235.56 116.79,235.53 115.28,235.49 113.78,235.46 112.28,235.42 110.77,235.38 109.27,235.35 107.76,235.32 106.26,235.29 104.75,235.26 103.25,235.22 101.74,235.19 100.23,235.16 98.73,235.12 97.23,235.09 95.72,235.06 94.22,235.02 92.71,234.99 91.2,234.95 88.9,234.9" fill="#bde3bd" stroke="none"/>
<polygon points="88.9,234.9 91.2,234.95 92.71,234.99 94.22,235.02 95.72,235.06 97.23,235.09 98.73,235.12 100.23,235.16 101.74,235.19 103.25,235.22 104.75,235.26 106.26,235.29 107.76,235.32 109.27,235.35 110.77,235.38 112.28,235.42 113.78,235.46 115.28,235.49 116.79,235.53 118.3,235.56 119.8,235.59 121.31,235.62 122.81,235.65 124.31,235.67 125.82,235.68 127.33,235.69 128.83,235.7 130.34,235.7 131.84,235.69 133.34,235.67 134.85,235.65 136.36,235.63 137.86,235.59 139.37,235.56 140.87,235.52 142.38,235.49 143.88,235.45 145.39,235.41 146.89,235.37 148.4,235.34 149.9,235.31 151.41,235.28 152.91,235.25 154.42,235.22 155.92,235.2 157.43,235.17 158.93,235.15 160.44,235.12 161.94,235.09 163.45,235.06 164.95,235.03 166.46,234.99 167.96,234.95 169.47,234.9 170.97,234.85 172.48,234.78 173.98,234.7 175.49,234.61 176.99,234.52 178.5,234.44 180,234.35 181.51,234.27 183.01,234.19 184.52,234.1 186.02,234.01 187.53,233.92 189.03,233.83 190.54,233.75 192.04,233.69 193.55,233.63 195.05,233.6 196.56,233.59 198.06,233.59 199.56,233.6 201.07,233.62 202.58,233.65 204.08,233.68 205.59,233.71 207.09,233.75 208.6,233.78 210.1,233.82 211.61,233.85 213.11,233.87 214.62,233.89 216.12,233.9 217.62,233.9 219.13,233.9 220.64,233.89 222.14,233.88 223.65,233.87 225.15,233.85 226.66,233.84 228.16,233.82 229.67,233.8 231.17,233.79 232.68,233.77 234.18,233.75 235.69,233.73 237.19,233.72 238.69,233.71 240.2,233.7 241.71,233.7 243.21,233.7 244.72,233.7 246.22,233.71 247.73,233.71 249.23,233.72 250.74,233.72 252.24,233.73 253.75,233.72 255.25,233.71 256.75,233.69 258.26,233.67 259.77,233.63 261.27,233.6 262.78,233.55 264.28,233.51 265.79,233.46 267.29,233.41 268.8,233.37 271.1,233.3 271.1,258.35 268.8,258.35 267.29,258.35 265.79,258.35 264.28,258.35 262.78,258.35 261.27,258.35 259.77,258.35 258.26,258.35 256.75,258.35 255.25,258.35 253.75,258.35 252.24,258.35 250.74,258.35 249.23,258.35 247.73,258.35 246.22,258.35 244.72,258.35 243.21,258.35 241.71,258.35 240.2,258.35 238.69,258.35 237.19,258.35 235.69,258.35 234.18,258.35 232.68,258.35 231.17,258.35 229.67,258.35 228.16,258.35 226.66,258.35 225.15,258.35 223.65,258.35 222.14,258.35 220.64,258.35 219.13,258.35 217.62,258.35 216.12,258.35 214.62,258.35 213.11,258.35 211.61,258.35 210.1,258.35 208.6,258.35 207.09,258.35 205.59,258.35 204.08,258.35 202.58,258.35 201.07,258.35 199.56,258.35 198.06,258.35 196.56,258.35 195.05,258.35 193.55,258.35 192.04,258.35 190.54,258.35 189.03,258.35 187.53,258.35 186.02,258.35 184.52,258.35 183.01,258.35 181.51,258.35 180,258.35 178.5,258.35 176.99,258.35 175.49,258.35 173.98,258.35 172.48,258.35 170.97,258.35 169.47,258.35 167.96,258.35 166.46,258.35 164.95,258.35 163.45,258.35 161.94,258.35 160.44,258.35 158.93,258.35 157.43,258.35 155.92,258.35 154.42,258.35 152.91,258.35 151.41,258.35 149.9,258.35 148.4,258.35 146.89,258.35 145.39,258.35 143.88,258.35 142.38,258.35 140.87,258.35 139.37,258.35 137.86,258.35 136.36,258.35 134.85,258.35 133.34,258.35 131.84,258.35 130.34,258.35 128.83,258.35 127.33,258.35 125.82,258.35 124.31,258.35 122.81,258.35 121.31,258.35 119.8,258.35 118.3,258.35 116.79,258.35 115.28,258.35 113.78,258.35 112.28,258.35 110.77,258.35 109.27,258.35 107.76,258.35 106.26,258.35 104.75,258.35 103.25,258.35 101.74,258.35 100.23,258.35 98.73,258.35 97.23,258.35 95.72,258.35 94.22,258.35 92.71,258.35 91.2,258.35 88.9,258.35" fill="#c2c2fc" stroke="none"/>
<polyline points="88.9,224.4 91.2,224.51 92.71,224.58 94.22,224.65 95.72,224.72 97.23,224.8 98.73,224.87 100.23,224.94 101.74,225 103.25,225.07 104.75,225.12 106.26,225.18 107.76,225.23 109.27,225.28 110.77,225.32 112.28,225.37 113.78,225.42 115.28,225.46 116.79,225.51 118.3,225.55 119.8,225.58 121.31,225.61 122.81,225.64 124.31,225.66 125.82,225.68 127.33,225.69 128.83,225.7 130.34,225.7 131.84,225.69 133.34,225.67 134.85,225.65 136.36,225.62 137.86,225.58 139.37,225.55 140.87,225.5 142.38,225.46 143.88,225.41 145.39,225.36 146.89,225.31 148.4,225.26 149.9,225.21 151.41,225.16 152.91,225.11 154.42,225.06 155.92,225 157.43,224.94 158.93,224.88 160.44,224.82 161.94,224.76 163.45,224.69 164.95,224.62 166.46,224.55 167.96,224.48 169.47,224.4 170.97,224.32 172.48,224.23 173.98,224.13 175.49,224.02 176.99,223.91 178.5,223.79 180,223.68 181.51,223.56 183.01,223.43 184.52,223.28 186.02,223.12 187.53,222.97 189.03,222.82 190.54,222.68 192.04,222.56 193.55,222.47 195.05,222.41 196.56,222.38 198.06,222.37 199.56,222.38 201.07,222.4 202.58,222.44 204.08,222.48 205.59,222.53 207.09,222.58 208.6,222.64 210.1,222.68 211.61,222.73 213.11,222.76 214.62,222.79 216.12,222.8 217.62,222.8 219.13,222.79 220.64,222.78 222.14,222.77 223.65,222.75 225.15,222.73 226.66,222.7 228.16,222.68 229.67,222.65 231.17,222.63 232.68,222.6 234.18,222.57 235.69,222.55 237.19,222.53 238.69,222.51 240.2,222.5 241.71,222.49 243.21,222.5 244.72,222.51 246.22,222.52 247.73,222.53 249.23,222.54 250.74,222.55 252.24,222.55 253.75,222.54 255.25,222.52 256.75,222.49 258.26,222.44 259.77,222.37 261.27,222.29 262.78,222.21 264.28,222.12 265.79,222.02 267.29,221.93 268.8,221.83 271.1,221.7" fill="none" stroke="#ff2020" stroke-width="1.5" />
<polyline points="88.9,227.6 91.2,227.71 92.71,227.78 94.22,227.85 95.72,227.93 97.23,228 98.73,228.07 100.23,228.14 101.74,228.21 103.25,228.27 104.75,228.33 106.26,228.38 107.76,228.43 109.27,228.47 110.77,228.51 112.28,228.55 113.78,228.59 115.28,228.62 116.79,228.66 118.3,228.69 119.8,228.71 121.31,228.74 122.81,228.76 124.31,228.78 125.82,228.79 127.33,228.8 128.83,228.8 130.34,228.8 131.84,228.79 133.34,228.78 134.85,228.76 136.36,228.74 137.86,228.72 139.37,228.69 140.87,228.65 142.38,228.62 143.88,228.58 145.39,228.54 146.89,228.5 148.4,228.45 149.9,228.41 151.41,228.36 152.91,228.31 154.42,228.26 155.92,228.2 157.43,228.14 158.93,228.08 160.44,228.01 161.94,227.95 163.45,227.88 164.95,227.81 166.46,227.74 167.96,227.67 169.47,227.6 170.97,227.53 172.48,227.45 173.98,227.37 175.49,227.29 176.99,227.21 178.5,227.12 180,227.05 181.51,226.98 183.01,226.9 184.52,226.83 186.02,226.75 187.53,226.67 189.03,226.6 190.54,226.54 192.04,226.48 193.55,226.44 195.05,226.4 196.56,226.39 198.06,226.38 199.56,226.37 201.07,226.38 202.58,226.38 204.08,226.4 205.59,226.41 207.09,226.43 208.6,226.45 210.1,226.46 211.61,226.48 213.11,226.49 214.62,226.5 216.12,226.5 217.62,226.5 219.13,226.5 220.64,226.49 222.14,226.49 223.65,226.48 225.15,226.47 226.66,226.47 228.16,226.46 229.67,226.45 231.17,226.44 232.68,226.43 234.18,226.42 235.69,226.42 237.19,226.41 238.69,226.4 240.2,226.4 241.71,226.4 243.21,226.41 244.72,226.41 246.22,226.43 247.73,226.44 249.23,226.45 250.74,226.45 252.24,226.45 253.75,226.44 255.25,226.42 256.75,226.39 258.26,226.34 259.77,226.29 261.27,226.22 262.78,226.14 264.28,226.06 265.79,225.98 267.29,225.9 268.8,225.82 271.1,225.7" fill="none" stroke="#1fa01f" stroke-width="1.5" />
<polyline points="88.9,234.9 91.2,234.95 92.71,234.99 94.22,235.02 95.72,235.06 97.23,235.09 98.73,235.12 100.23,235.16 101.74,235.19 103.25,235.22 104.75,235.26 106.26,235.29 107.76,235.32 109.27,235.35 110.77,235.38 112.28,235.42 113.78,235.46 115.28,235.49 116.79,235.53 118.3,235.56 119.8,235.59 121.31,235.62 122.81,235.65 124.31,235.67 125.82,235.68 127.33,235.69 128.83,235.7 130.34,235.7 131.84,235.69 133.34,235.67 134.85,235.65 136.36,235.63 137.86,235.59 139.37,235.56 140.87,235.52 142.38,235.49 143.88,235.45 145.39,235.41 146.89,235.37 148.4,235.34 149.9,235.31 151.41,235.28 152.91,235.25 154.42,235.22 155.92,235.2 157.43,235.17 158.93,235.15 160.44,235.12 161.94,235.09 163.45,235.06 164.95,235.03 166.46,234.99 167.96,234.95 169.47,234.9 170.97,234.85 172.48,234.78 173.98,234.7 175.49,234.61 176.99,234.52 178.5,234.44 180,234.35 181.51,234.27 183.01,234.19 184.52,234.1 186.02,234.01 187.53,233.92 189.03,233.83 190.54,233.75 192.04,233.69 193.55,233.63 195.05,233.6 196.56,233.59 198.06,233.59 199.56,233.6 201.07,233.62 202.58,233.65 204.08,233.68 205.59,233.71 207.09,233.75 208.6,233.78 210.1,233.82 211.61,233.85 213.11,233.87 214.62,233.89 216.12,233.9 217.62,233.9 219.13,233.9 220.64,233.89 222.14,233.88 223.65,233.87 225.15,233.85 226.66,233.84 228.16,233.82 229.67,233.8 231.17,233.79 232.68,233.77 234.18,233.75 235.69,233.73 237.19,233.72 238.69,233.71 240.2,233.7 241.71,233.7 243.21,233.7 244.72,233.7 246.22,233.71 247.73,233.71 249.23,233.72 250.74,233.72 252.24,233.73 253.75,233.72 255.25,233.71 256.75,233.69 258.26,233.67 259.77,233.63 261.27,233.6 262.78,233.55 264.28,233.51 265.79,233.46 267.29,233.41 268.8,233.37 271.1,233.3" fill="none" stroke="#3030ff" stroke-width="1.4" />
<line x1="88.9" y1="258.35" x2="271.1" y2="258.35" stroke="#7a14f0" stroke-width="1.5"/>
<text x="86.3" y="46.45" font-size="10.2" class="b" text-anchor="end">3</text>
<text x="86.3" y="58.05" font-size="10.2" class="b" text-anchor="end">2</text>
<text x="86.3" y="69.75" font-size="10.2" class="b" text-anchor="end">1</text>
<text x="86.3" y="81.75" font-size="10.2" class="b" text-anchor="end">0</text>
<text x="86.3" y="96.85" font-size="10.2" class="b" text-anchor="end">8</text>
<text x="86.3" y="111.65" font-size="10.2" class="b" text-anchor="end">4</text>
<text x="86.3" y="125.95" font-size="10.2" class="b" text-anchor="end">0</text>
<text x="86.3" y="133.3" font-size="10.2" class="b" text-anchor="end">1.0</text>
<text x="86.3" y="141.3" font-size="10.2" class="b" text-anchor="end">0.5</text>
<text x="86.3" y="149.3" font-size="10.2" class="b" text-anchor="end">0.0</text>
<text x="86.3" y="157.3" font-size="10.2" class="b" text-anchor="end">-0.5</text>
<text x="86.3" y="165.3" font-size="10.2" class="b" text-anchor="end">-1.0</text>
<text x="86.3" y="187.15" font-size="10.2" class="b" text-anchor="end">2</text>
<text x="85.6" y="216.75" font-size="10.2" class="b" text-anchor="end">1</text>
<text x="80.7" y="226.25" font-size="10.2" class="b" text-anchor="end">2</text>
<text x="79.9" y="243.95" font-size="10.2" class="b" text-anchor="end">1</text>
<text x="81" y="262.25" font-size="10.2" class="b" text-anchor="end">0</text>
<text x="107.96" y="280" font-size="10.5" class="b" text-anchor="middle">4.66</text>
<text x="144.08" y="280" font-size="10.5" class="b" text-anchor="middle">4.68</text>
<text x="180.2" y="280" font-size="10.5" class="b" text-anchor="middle">4.70</text>
<text x="216.32" y="280" font-size="10.5" class="b" text-anchor="middle">4.72</text>
<text x="252.44" y="280" font-size="10.5" class="b" text-anchor="middle">4.74</text>
<text x="180.2" y="293.3" font-size="10.4" class="b" text-anchor="middle">Time (s)</text>
<text x="3.5" y="49.6" font-size="10.3" class="b"><tspan class="i">P</tspan><tspan font-size="7.4" dy="2.8">N-NB_dep</tspan><tspan dy="-2.8"> (MW)</tspan></text>
<rect x="15.6" y="58.9" width="44.2" height="17.6" fill="#fff" stroke="#111" stroke-width="1.25"/>
<text x="37.5" y="71.5" font-size="10.4" class="b" text-anchor="middle">D beam</text>
<text x="9.5" y="93.9" font-size="10.3" class="b"><tspan class="i">P</tspan><tspan font-size="7.3" dy="2.4">P-NB_inj</tspan><tspan dy="-2.4"> (MW)</tspan></text>
<rect x="15.8" y="104.7" width="44.8" height="17.2" fill="#fff" stroke="#111" stroke-width="1.25"/>
<text x="37.6" y="116.7" font-size="10.4" class="b" text-anchor="middle">D beam</text>
<text x="3.1" y="155.9" font-size="10.3" class="b"><tspan class="i">b</tspan><tspan font-size="7.7" dy="2.2">&#952;_EIC</tspan><tspan dy="-2.2" dx="-1.5"> (10</tspan><tspan font-size="7" dy="-7.0" dx="0.6">-3</tspan><tspan dy="7.0" dx="0.3">T)</tspan></text>
<text x="8.2" y="196.6" font-size="10.3" class="b"><tspan class="i">S</tspan><tspan font-size="8.3" dy="2.4">n</tspan><tspan dy="-2.4"> (10</tspan><tspan font-size="6.9" dy="-7.6">15</tspan><tspan dy="7.6"> n/s)</tspan></text>
<text x="0.2" y="241.4" font-size="10.3" class="b"><tspan class="i">S</tspan><tspan font-size="6.7" dy="1.6">n_calc</tspan><tspan dy="-1.6"> (10</tspan><tspan font-size="7.4" dy="-7.3" dx="-0.2">15</tspan><tspan dy="7.3" dx="-0.2"> n/s)</tspan></text>
<rect x="282.3" y="39.2" width="42.5" height="33.6" fill="#fff" stroke="#111" stroke-width="1.35"/>
<line x1="286.1" y1="46.8" x2="301.6" y2="46.8" stroke="#ff3c3c" stroke-width="1.2"/>
<text x="305.6" y="49.6" font-size="8.4" fill="#111">NB1</text>
<line x1="286.1" y1="56.5" x2="301.6" y2="56.5" stroke="#3c3cff" stroke-width="1.2"/>
<text x="305.6" y="59.3" font-size="8.4" fill="#111">NB2</text>
<line x1="286.1" y1="65.7" x2="301.6" y2="65.7" stroke="#3cb03c" stroke-width="1.2"/>
<text x="305.6" y="68.5" font-size="8.4" fill="#111">NB3</text>
<rect x="283.1" y="90.2" width="42.5" height="24.2" fill="#fff" stroke="#111" stroke-width="1.35"/>
<line x1="286.8" y1="97.9" x2="302.3" y2="97.9" stroke="#a050f0" stroke-width="1.7"/>
<text x="306.3" y="100.6" font-size="8.4" fill="#111">NB4</text>
<line x1="286.8" y1="107.6" x2="302.3" y2="107.6" stroke="#30e6f6" stroke-width="1.0"/>
<text x="306.3" y="110.3" font-size="8.4" fill="#111">NB5</text>
<rect x="279.0" y="214.4" width="58.4" height="52.0" fill="#fff" stroke="#222" stroke-width="1.2"/>
<rect x="286.4" y="219.25" width="7.3" height="5.5" fill="#ffc4c8" stroke="#ff2020" stroke-width="1.0"/>
<text x="298.6" y="225.4" font-size="9.9" class="b" fill="#ff2020" style="stroke:#ff2020"><tspan class="i">S</tspan><tspan font-size="5.85" dy="2.1">n_PNB</tspan></text>
<rect x="286.4" y="231.3" width="7.3" height="5.5" fill="#bfe6bf" stroke="#22a022" stroke-width="1.0"/>
<text x="298.6" y="237.45" font-size="9.9" class="b" fill="#22a022" style="stroke:#22a022"><tspan class="i">S</tspan><tspan font-size="5.85" dy="2.1">n_NNB_BB</tspan></text>
<rect x="286.4" y="243.45" width="7.3" height="5.5" fill="#c4c4fb" stroke="#2525ff" stroke-width="1.0"/>
<text x="298.6" y="249.6" font-size="9.9" class="b" fill="#2525ff" style="stroke:#2525ff"><tspan class="i">S</tspan><tspan font-size="5.85" dy="2.1">n_NNB</tspan></text>
<rect x="286.4" y="255.3" width="7.3" height="5.5" fill="#e0c8f6" stroke="#7d20dc" stroke-width="1.0"/>
<text x="298.6" y="261.45" font-size="9.9" class="b" fill="#7d20dc" style="stroke:#7d20dc"><tspan class="i">S</tspan><tspan font-size="5.85" dy="2.1">n_TH</tspan></text>
<rect x="395" y="13.8" width="196.5" height="20" fill="#fff" stroke="#333" stroke-width="0.8"/>
<text x="397.5" y="28" font-size="13.2" class="b"><tspan class="i">B</tspan><tspan font-size="9.2" dy="2.6">t</tspan><tspan dy="-2.6"> = 2.75 T (CCW), </tspan><tspan class="i">R</tspan><tspan font-size="9.2" dy="2.6">ax</tspan><tspan dy="-2.6"> = 3.60 m</tspan></text>
<line x1="393" y1="239" x2="614.6" y2="105.7" stroke="#ff3030" stroke-width="1.0"/>
<circle cx="533.5" cy="128.3" r="2.95" fill="none" stroke="#ff0000" stroke-width="1.4"/>
<circle cx="544.6" cy="125.2" r="2.95" fill="none" stroke="#ff0000" stroke-width="1.4"/>
<circle cx="548.1" cy="130.9" r="2.95" fill="none" stroke="#ff0000" stroke-width="1.4"/>
<circle cx="530" cy="134.3" r="2.95" fill="none" stroke="#ff0000" stroke-width="1.4"/>
<circle cx="531.4" cy="133.9" r="2.95" fill="none" stroke="#ff0000" stroke-width="1.4"/>
<circle cx="543.2" cy="133.7" r="2.95" fill="none" stroke="#ff0000" stroke-width="1.4"/>
<circle cx="539.6" cy="136.8" r="2.95" fill="none" stroke="#ff0000" stroke-width="1.4"/>
<circle cx="551.3" cy="141.6" r="2.95" fill="none" stroke="#ff0000" stroke-width="1.4"/>
<circle cx="540.6" cy="145.5" r="2.95" fill="none" stroke="#ff0000" stroke-width="1.4"/>
<circle cx="511.8" cy="155.9" r="2.95" fill="none" stroke="#ff0000" stroke-width="1.4"/>
<circle cx="526.4" cy="150.9" r="2.95" fill="none" stroke="#ff0000" stroke-width="1.4"/>
<circle cx="533" cy="151.9" r="2.95" fill="none" stroke="#ff0000" stroke-width="1.4"/>
<circle cx="528" cy="155.6" r="2.95" fill="none" stroke="#ff0000" stroke-width="1.4"/>
<circle cx="527.3" cy="154.3" r="2.95" fill="none" stroke="#ff0000" stroke-width="1.4"/>
<circle cx="545.2" cy="151.4" r="2.95" fill="none" stroke="#ff0000" stroke-width="1.4"/>
<circle cx="543" cy="153.4" r="2.95" fill="none" stroke="#ff0000" stroke-width="1.4"/>
<circle cx="546.8" cy="154.6" r="2.95" fill="none" stroke="#ff0000" stroke-width="1.4"/>
<circle cx="549.4" cy="156.6" r="2.95" fill="none" stroke="#ff0000" stroke-width="1.4"/>
<circle cx="538.4" cy="158.5" r="2.95" fill="none" stroke="#ff0000" stroke-width="1.4"/>
<circle cx="542.6" cy="161.7" r="2.95" fill="none" stroke="#ff0000" stroke-width="1.4"/>
<circle cx="521.3" cy="165.1" r="2.95" fill="none" stroke="#ff0000" stroke-width="1.4"/>
<circle cx="533" cy="168.8" r="2.95" fill="none" stroke="#ff0000" stroke-width="1.4"/>
<circle cx="536.6" cy="170.3" r="2.95" fill="none" stroke="#ff0000" stroke-width="1.4"/>
<circle cx="552.4" cy="169.5" r="2.95" fill="none" stroke="#ff0000" stroke-width="1.4"/>
<circle cx="526.1" cy="173.5" r="2.95" fill="none" stroke="#ff0000" stroke-width="1.4"/>
<circle cx="533.2" cy="172.5" r="2.95" fill="none" stroke="#ff0000" stroke-width="1.4"/>
<circle cx="532" cy="175.5" r="2.95" fill="none" stroke="#ff0000" stroke-width="1.4"/>
<circle cx="538.3" cy="178.1" r="2.95" fill="none" stroke="#ff0000" stroke-width="1.4"/>
<circle cx="507.6" cy="188.3" r="2.95" fill="none" stroke="#ff0000" stroke-width="1.4"/>
<circle cx="508.9" cy="194.8" r="2.95" fill="none" stroke="#ff0000" stroke-width="1.4"/>
<circle cx="499.1" cy="197.8" r="2.95" fill="none" stroke="#ff0000" stroke-width="1.4"/>
<circle cx="434" cy="212.5" r="2.95" fill="none" stroke="#ff0000" stroke-width="1.4"/>
<circle cx="433.2" cy="220.2" r="2.95" fill="none" stroke="#ff0000" stroke-width="1.4"/>
<circle cx="442.3" cy="224.6" r="2.95" fill="none" stroke="#ff0000" stroke-width="1.4"/>
<circle cx="423.5" cy="232.3" r="2.95" fill="none" stroke="#ff0000" stroke-width="1.4"/>
<circle cx="433.6" cy="231.1" r="2.95" fill="none" stroke="#ff0000" stroke-width="1.4"/>
<rect x="393" y="53.9" width="221.6" height="185.1" fill="none" stroke="#111" stroke-width="1.5"/>
<line x1="429.93" y1="53.9" x2="429.93" y2="60.9" stroke="#111" stroke-width="1.3"/>
<line x1="429.93" y1="232" x2="429.93" y2="239" stroke="#111" stroke-width="1.3"/>
<line x1="466.87" y1="53.9" x2="466.87" y2="60.9" stroke="#111" stroke-width="1.3"/>
<line x1="466.87" y1="232" x2="466.87" y2="239" stroke="#111" stroke-width="1.3"/>
<line x1="503.8" y1="53.9" x2="503.8" y2="60.9" stroke="#111" stroke-width="1.3"/>
<line x1="503.8" y1="232" x2="503.8" y2="239" stroke="#111" stroke-width="1.3"/>
<line x1="540.73" y1="53.9" x2="540.73" y2="60.9" stroke="#111" stroke-width="1.3"/>
<line x1="540.73" y1="232" x2="540.73" y2="239" stroke="#111" stroke-width="1.3"/>
<line x1="577.67" y1="53.9" x2="577.67" y2="60.9" stroke="#111" stroke-width="1.3"/>
<line x1="577.67" y1="232" x2="577.67" y2="239" stroke="#111" stroke-width="1.3"/>
<line x1="393" y1="192.72" x2="400" y2="192.72" stroke="#111" stroke-width="1.3"/>
<line x1="607.6" y1="192.72" x2="614.6" y2="192.72" stroke="#111" stroke-width="1.3"/>
<line x1="393" y1="146.45" x2="400" y2="146.45" stroke="#111" stroke-width="1.3"/>
<line x1="607.6" y1="146.45" x2="614.6" y2="146.45" stroke="#111" stroke-width="1.3"/>
<line x1="393" y1="100.17" x2="400" y2="100.17" stroke="#111" stroke-width="1.3"/>
<line x1="607.6" y1="100.17" x2="614.6" y2="100.17" stroke="#111" stroke-width="1.3"/>
<text x="388.5" y="244.3" font-size="12.5" class="b" text-anchor="end">0.00</text>
<text x="388.5" y="198.03" font-size="12.5" class="b" text-anchor="end">0.05</text>
<text x="388.5" y="151.75" font-size="12.5" class="b" text-anchor="end">0.10</text>
<text x="388.5" y="105.47" font-size="12.5" class="b" text-anchor="end">0.15</text>
<text x="388.5" y="59.2" font-size="12.5" class="b" text-anchor="end">0.20</text>
<text x="393" y="255.8" font-size="12.5" class="b" text-anchor="middle">0.0</text>
<text x="429.93" y="255.8" font-size="12.5" class="b" text-anchor="middle">0.2</text>
<text x="466.87" y="255.8" font-size="12.5" class="b" text-anchor="middle">0.4</text>
<text x="503.8" y="255.8" font-size="12.5" class="b" text-anchor="middle">0.6</text>
<text x="540.73" y="255.8" font-size="12.5" class="b" text-anchor="middle">0.8</text>
<text x="577.67" y="255.8" font-size="12.5" class="b" text-anchor="middle">1.0</text>
<text x="614.9" y="255.8" font-size="12.5" class="b" text-anchor="middle">1.2</text>
<text x="463.9" y="277.6" font-size="12.5" class="b"><tspan class="i">b</tspan><tspan font-size="9.4" dy="2.8">&#952;_EIC</tspan><tspan dy="-2.8"> (10</tspan><tspan font-size="8.6" dy="-7.8" dx="0.6">-3</tspan><tspan dy="7.8" dx="2.0"> T)</tspan></text>
<text transform="translate(360.6,146.2) rotate(-90)" font-size="13.2" class="b i" text-anchor="middle">-dS<tspan font-size="9" dy="2.6">n</tspan><tspan dy="-2.6">/S</tspan><tspan font-size="9" dy="2.6">n</tspan></text>
<rect x="418.3" y="69.5" width="64.8" height="25.6" fill="#fff" stroke="#4a4a4a" stroke-width="0.9"/>
<text transform="translate(420.4,88.6) scale(1.35,1.0)" font-size="14.5" font-weight="normal" stroke="#000" stroke-width="0.35">&#8733;</text>
<text x="434" y="88.8" font-size="13.8" class="b">(<tspan class="i">b</tspan><tspan font-size="8.7" dy="2.7">&#952;_EIC</tspan><tspan dy="-2.7">)</tspan><tspan font-size="8.8" dy="-8.0" dx="1.0">1</tspan></text>
<rect x="576.3" y="174.0" width="20.5" height="22.8" fill="#ffff00"/>
<text x="586.6" y="192" font-size="18" text-anchor="middle" fill="#000">b</text>
</svg></body></html>
